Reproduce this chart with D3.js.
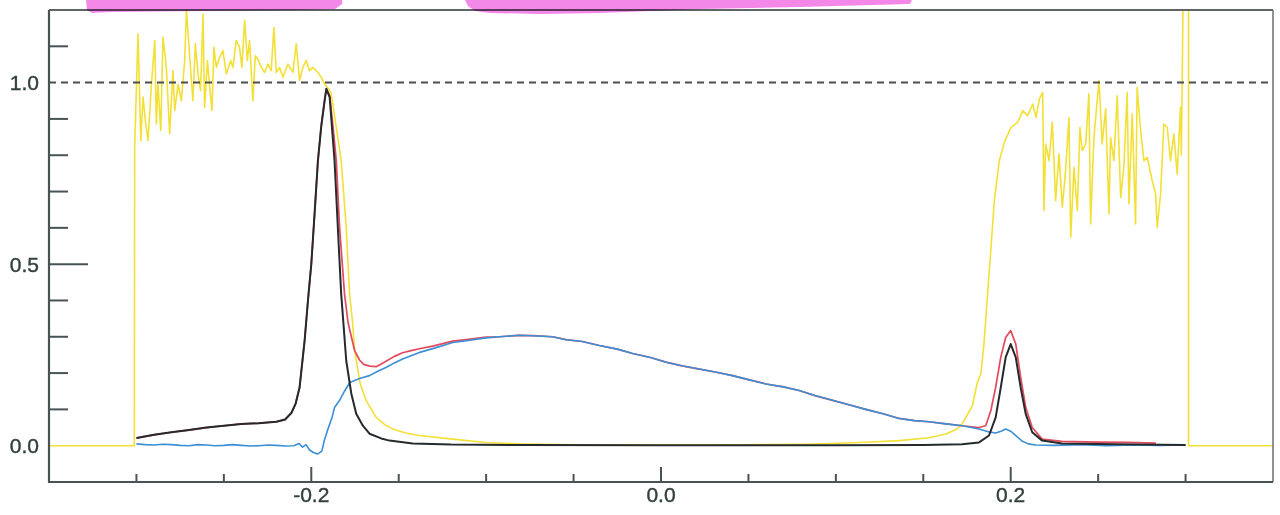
<!DOCTYPE html>
<html><head><meta charset="utf-8">
<script src="https://cdn.jsdelivr.net/npm/d3@7"></script>
<style>html,body{margin:0;padding:0;background:#fff;} svg{display:block;}</style>
</head><body>
<svg id="chart" width="1280" height="515"></svg>
<script>
// ---------- axis / tick data ----------
const xDomain = [-0.35, 0.35];
const yDomain = [-0.1, 1.2];
const xTicksMajor = [-0.2, 0.0, 0.2];
const xTicksMinor = [-0.3, -0.25, -0.15, -0.1, -0.05, 0.05, 0.1, 0.15, 0.25, 0.3];
const yTickLabels = [0.0, 0.5, 1.0];
const yTicksLong = [0.5];
const yTicksMinor = [0.1, 0.2, 0.3, 0.4, 0.6, 0.7, 0.8, 0.9, 1.1];
const refLevel = 1.0;

// ---------- series (x, value) ----------
const blackSeries = [
  [-0.300,0.021],[-0.290,0.030],[-0.280,0.037],[-0.270,0.043],[-0.260,0.050],[-0.250,0.055],
  [-0.240,0.060],[-0.230,0.062],[-0.220,0.066],[-0.215,0.072],[-0.2114,0.090],[-0.209,0.115],
  [-0.2067,0.160],[-0.2038,0.290],[-0.2019,0.400],[-0.2000,0.500],[-0.1981,0.640],[-0.1962,0.785],
  [-0.1943,0.880],[-0.1924,0.950],[-0.1914,0.983],[-0.1895,0.960],[-0.1867,0.785],[-0.1848,0.600],
  [-0.1829,0.418],[-0.1800,0.234],[-0.1771,0.143],[-0.1743,0.088],[-0.1705,0.055],[-0.1667,0.033],
  [-0.1600,0.020],[-0.1553,0.014],[-0.1420,0.006],[-0.120,0.003],[-0.080,0.002],[0.000,0.001],
  [0.100,0.001],[0.150,0.002],[0.1722,0.004],[0.1819,0.009],[0.1876,0.028],[0.1914,0.078],
  [0.1943,0.160],[0.1971,0.243],[0.2000,0.280],[0.2029,0.243],[0.2057,0.160],[0.2086,0.087],
  [0.2123,0.037],[0.2180,0.014],[0.2293,0.006],[0.260,0.004],[0.300,0.002]
];
const blueSeries = [
  [-0.300,0.005],[-0.295,0.003],[-0.290,0.002],[-0.285,0.004],[-0.280,0.003],[-0.275,0.001],
  [-0.270,0.000],[-0.265,0.003],[-0.260,0.002],[-0.255,0.000],[-0.250,0.001],[-0.245,0.003],
  [-0.240,0.001],[-0.235,-0.001],[-0.230,0.000],[-0.225,0.002],[-0.220,0.001],[-0.215,-0.001],
  [-0.210,0.000],[-0.207,0.006],[-0.205,-0.004],[-0.203,0.003],[-0.201,-0.012],[-0.199,-0.018],
  [-0.1965,-0.023],[-0.194,-0.015],[-0.1925,0.015],[-0.1905,0.045],[-0.188,0.080],[-0.1867,0.105],
  [-0.1838,0.125],[-0.181,0.150],[-0.178,0.174],[-0.1724,0.185],[-0.1667,0.193],[-0.162,0.205],
  [-0.157,0.216],[-0.1525,0.228],[-0.1478,0.239],[-0.143,0.248],[-0.1381,0.257],[-0.130,0.268],
  [-0.1191,0.284],[-0.1114,0.289],[-0.100,0.297],[-0.0924,0.300],[-0.081,0.304],[-0.0734,0.303],
  [-0.062,0.300],[-0.0543,0.292],[-0.045,0.287],[-0.0353,0.276],[-0.025,0.266],[-0.0162,0.254],
  [-0.006,0.243],[0.0029,0.230],[0.012,0.220],[0.0219,0.211],[0.031,0.203],[0.0409,0.193],
  [0.050,0.182],[0.060,0.170],[0.070,0.162],[0.079,0.152],[0.088,0.138],[0.0981,0.125],
  [0.108,0.112],[0.1171,0.100],[0.127,0.088],[0.1362,0.075],[0.145,0.069],[0.1533,0.066],
  [0.163,0.060],[0.1723,0.055],[0.1819,0.046],[0.1876,0.038],[0.1914,0.035],[0.1945,0.040],
  [0.1971,0.046],[0.2000,0.040],[0.2029,0.028],[0.2067,0.012],[0.2100,0.005],[0.2143,0.002],
  [0.225,0.001],[0.240,0.003],[0.255,0.000],[0.270,0.002],[0.285,0.001],[0.300,0.002]
];
const redPeakTail = [
  [-0.1895,0.965],[-0.1876,0.880],[-0.1857,0.785],[-0.1838,0.600],[-0.181,0.418],[-0.179,0.340],
  [-0.1771,0.300],[-0.1752,0.262],[-0.1724,0.236],[-0.170,0.224],[-0.1667,0.219],[-0.1627,0.218],
  [-0.160,0.225],[-0.157,0.233],[-0.1525,0.246],[-0.1478,0.256],[-0.143,0.262],[-0.1381,0.267],
  [-0.130,0.275],[-0.1191,0.288],[-0.1114,0.292],[-0.100,0.299]
];
const redRightPeak = [
  [0.1819,0.050],[0.1857,0.055],[0.1886,0.096],[0.1914,0.161],[0.1943,0.243],[0.1971,0.298],
  [0.2000,0.317],[0.2029,0.280],[0.2057,0.188],[0.2086,0.105],[0.2123,0.050],[0.2180,0.018],
  [0.2293,0.012],[0.250,0.010],[0.267,0.009],[0.283,0.007]
];
const yellowSeries = [
  [-0.350,0],[-0.3012,0],[-0.3010,0.822],[-0.2991,1.134],[-0.2975,0.840],[-0.2962,0.960],[-0.2949,0.895],
  [-0.2934,0.840],[-0.2914,0.996],[-0.2895,1.116],[-0.2886,0.886],[-0.2877,0.996],[-0.2861,0.868],
  [-0.2848,1.125],[-0.2829,1.042],[-0.2810,0.859],[-0.2791,1.033],[-0.2781,0.923],[-0.2762,0.996],
  [-0.2743,0.950],[-0.2724,1.061],[-0.2714,1.200],[-0.2695,1.070],[-0.2677,0.950],[-0.2663,1.107],
  [-0.2648,1.024],[-0.2633,0.978],[-0.2619,1.189],[-0.2610,0.932],[-0.2594,1.061],[-0.2581,0.987],
  [-0.2568,0.923],[-0.2557,1.097],[-0.2543,1.042],[-0.2524,1.070],[-0.2505,1.088],[-0.2486,1.024],
  [-0.2461,1.061],[-0.2448,1.042],[-0.2429,1.116],[-0.2410,1.097],[-0.2397,1.042],[-0.2381,1.171],
  [-0.2366,1.061],[-0.2353,1.116],[-0.2334,0.950],[-0.2320,1.074],[-0.2305,1.065],[-0.2286,1.042],
  [-0.2267,1.028],[-0.2248,1.051],[-0.2229,1.033],[-0.2214,1.152],[-0.2200,1.028],[-0.2181,1.042],
  [-0.2162,1.015],[-0.2134,1.051],[-0.2105,1.028],[-0.2086,1.107],[-0.2067,1.006],[-0.2048,1.042],
  [-0.2029,1.061],[-0.2010,1.033],[-0.1991,1.042],[-0.1962,1.028],[-0.1943,1.015],[-0.1924,0.996],
  [-0.1905,0.985],[-0.1886,0.970],[-0.1857,0.877],[-0.1829,0.785],[-0.1800,0.600],[-0.1781,0.418],
  [-0.1764,0.340],[-0.1752,0.262],[-0.1734,0.210],[-0.1720,0.170],[-0.1686,0.124],[-0.1629,0.078],
  [-0.158,0.058],[-0.1534,0.046],[-0.146,0.035],[-0.1381,0.028],[-0.1191,0.018],[-0.100,0.009],
  [-0.081,0.005],[-0.060,0.003],[-0.030,0.002],[0.000,0.002],[0.030,0.002],[0.060,0.003],
  [0.080,0.004],[0.0979,0.006],[0.120,0.010],[0.1362,0.014],[0.1533,0.022],[0.1629,0.032],
  [0.1690,0.045],[0.1723,0.060],[0.1781,0.110],[0.1807,0.170],[0.1830,0.200],[0.1847,0.280],
  [0.1865,0.400],[0.1885,0.530],[0.1907,0.680],[0.1935,0.785],[0.1964,0.836],[0.2002,0.877],
  [0.2040,0.891],[0.2069,0.923],[0.2097,0.909],[0.2126,0.941],[0.2145,0.904],[0.2164,0.955],
  [0.2183,0.973],[0.2190,0.647],[0.2200,0.831],[0.2219,0.785],[0.2238,0.891],[0.2257,0.675],
  [0.2276,0.803],[0.2295,0.657],[0.2314,0.758],[0.2333,0.904],[0.2343,0.574],[0.2362,0.767],
  [0.2381,0.647],[0.2396,0.877],[0.2409,0.813],[0.2429,0.831],[0.2447,0.969],[0.2457,0.611],
  [0.2476,0.849],[0.2505,1.006],[0.2523,0.831],[0.2543,0.928],[0.2562,0.638],[0.2571,0.849],
  [0.2590,0.785],[0.2609,0.964],[0.2629,0.684],[0.2647,0.767],[0.2666,0.973],[0.2676,0.666],
  [0.2695,0.914],[0.2714,0.611],[0.2723,0.987],[0.2743,0.868],[0.2762,0.785],[0.2781,0.794],
  [0.2809,0.730],[0.2829,0.693],[0.2838,0.601],[0.2857,0.693],[0.2876,0.886],[0.2895,0.877],
  [0.2914,0.785],[0.2933,0.859],[0.2952,0.748],[0.2971,0.932],[0.2976,0.800],[0.2985,1.200],
  [0.3017,1.200],[0.3017,0],[0.350,0]
];
// highlighter marks above the frame: lower edge (x, value)
const highlight1 = [
  [-0.3288,1.2275],[-0.3283,1.2000],[-0.3254,1.1917],[-0.3151,1.1945],[-0.2636,1.1972],
  [-0.2065,1.2000],[-0.1864,1.2027],[-0.1824,1.2165],[-0.1824,1.2275]
];
const highlight2 = [
  [-0.1121,1.2275],[-0.1104,1.2110],[-0.1064,1.1972],[-0.0978,1.1917],[-0.0692,1.1890],
  [-0.0349,1.1917],[0.0223,1.2027],[0.0795,1.2082],[0.1424,1.2165],[0.1435,1.2275]
];

// ---------- build ----------
const W = 1280, H = 515;
const L = 49, R = 1273, T = 10, B = 482;
const svg = d3.select('#chart');
svg.append('rect').attr('width', W).attr('height', H).attr('fill', '#fff');
const x = d3.scaleLinear().domain(xDomain).range([L, R]);
const y = d3.scaleLinear().domain(yDomain).range([B, T]);
const fmt = v => d3.format('.1f')(v).replace('\u2212', '-');
const frameColor = '#4a5353';
const textColor = '#33403e';
const font = 'Liberation Sans, Arial, sans-serif';

// ticks first (series are drawn over them, as in the original)
yTicksMinor.forEach(v => {
  svg.append('line').attr('x1', L).attr('x2', L + 19).attr('y1', y(v)).attr('y2', y(v))
    .attr('stroke', frameColor).attr('stroke-width', 2);
});
yTicksLong.forEach(v => {
  svg.append('line').attr('x1', L).attr('x2', L + 39).attr('y1', y(v)).attr('y2', y(v))
    .attr('stroke', frameColor).attr('stroke-width', 2);
});
yTickLabels.forEach(v => {
  svg.append('text').attr('x', L - 10).attr('y', y(v)).attr('dy', '0.36em')
    .attr('text-anchor', 'end').attr('font-family', font)
    .attr('font-size', 21).attr('fill', textColor)
    .attr('stroke', textColor).attr('stroke-width', 0.4).text(fmt(v));
});
xTicksMinor.forEach(v => {
  svg.append('line').attr('x1', x(v)).attr('x2', x(v)).attr('y1', B).attr('y2', B - 8)
    .attr('stroke', frameColor).attr('stroke-width', 2);
});
xTicksMajor.forEach(v => {
  svg.append('line').attr('x1', x(v)).attr('x2', x(v)).attr('y1', B).attr('y2', B - 15)
    .attr('stroke', frameColor).attr('stroke-width', 2);
  svg.append('text').attr('x', x(v)).attr('y', B + 20)
    .attr('text-anchor', 'middle').attr('font-family', font)
    .attr('font-size', 21).attr('fill', textColor)
    .attr('stroke', textColor).attr('stroke-width', 0.4).text(fmt(v));
});

// red composed from black's left flank, its own tail, blue's middle, and its own right peak
const redSeries = [].concat(
  blackSeries.filter(d => d[0] <= -0.1914),
  redPeakTail,
  blueSeries.filter(d => d[0] > -0.1 && d[0] <= 0.1723),
  redRightPeak
);

const line = d3.line().x(d => x(d[0])).y(d => y(Math.min(d[1], 1.2)));
const g = svg.append('g');

g.append('path').datum(yellowSeries).attr('d', line)
  .attr('fill', 'none').attr('stroke', '#f3e036').attr('stroke-width', 1.6).attr('stroke-linejoin', 'round');

// reference dashed line
g.append('line').attr('x1', x(xDomain[0])).attr('x2', x(xDomain[1]))
  .attr('y1', y(refLevel)).attr('y2', y(refLevel))
  .attr('stroke', '#4a4f4f').attr('stroke-width', 2).attr('stroke-dasharray', '7,5');

g.append('path').datum(redSeries).attr('d', line)
  .attr('fill', 'none').attr('stroke', '#e24a5e').attr('stroke-width', 1.7).attr('stroke-linejoin', 'round');
g.append('path').datum(blueSeries).attr('d', line)
  .attr('fill', 'none').attr('stroke', '#3b8fd4').attr('stroke-width', 1.6).attr('stroke-linejoin', 'round');
g.append('path').datum(blackSeries).attr('d', line)
  .attr('fill', 'none').attr('stroke', '#262a2c').attr('stroke-width', 2).attr('stroke-linejoin', 'round');

// frame
svg.append('line').attr('x1', L).attr('x2', R).attr('y1', T).attr('y2', T).attr('stroke', '#5f6464').attr('stroke-width', 2);
svg.append('line').attr('x1', R).attr('x2', R).attr('y1', T).attr('y2', B).attr('stroke', '#6a6f6f').attr('stroke-width', 1.5);
svg.append('line').attr('x1', L).attr('x2', L).attr('y1', T).attr('y2', B + 1).attr('stroke', frameColor).attr('stroke-width', 2.2);
svg.append('line').attr('x1', L - 1).attr('x2', R).attr('y1', B).attr('y2', B).attr('stroke', frameColor).attr('stroke-width', 2.2);

// highlighter strokes
const edge = d3.line().x(d => x(d[0])).y(d => y(d[1]));
[highlight1, highlight2].forEach(h => {
  svg.append('path').attr('d', edge(h) + 'Z')
    .attr('fill', '#f27ee6').attr('opacity', 0.92).style('mix-blend-mode', 'multiply');
});
</script>
</body></html>
